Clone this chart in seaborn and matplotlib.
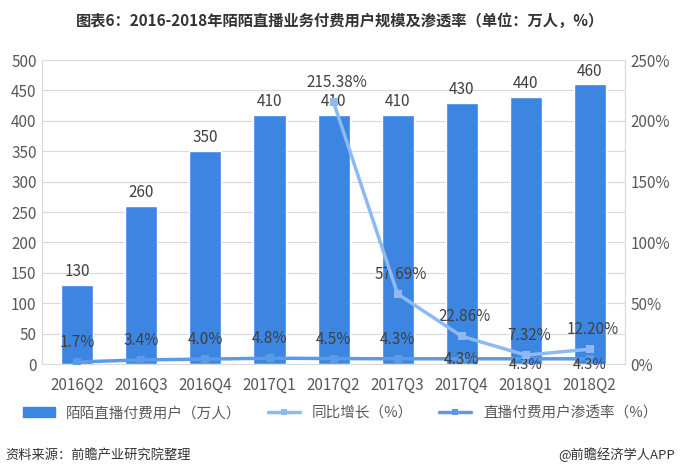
import numpy as np
import pandas as pd
import matplotlib.pyplot as plt
import seaborn as sns
from matplotlib.patches import Patch
from matplotlib.lines import Line2D

quarters = ["2016Q2", "2016Q3", "2016Q4", "2017Q1", "2017Q2", "2017Q3", "2017Q4", "2018Q1", "2018Q2"]
users = [130, 260, 350, 410, 410, 410, 430, 440, 460]
growth_quarters = ["2017Q2", "2017Q3", "2017Q4", "2018Q1", "2018Q2"]
growth = [215.38, 57.69, 22.86, 7.32, 12.20]
penetration = [1.7, 3.4, 4.0, 4.8, 4.5, 4.3, 4.3, 4.3, 4.3]

sns.set_style("white")
plt.rcParams['font.family'] = ['Noto Sans CJK SC', 'DejaVu Sans']

bar_color = "#3C85E0"
growth_color = "#8DBAF2"
pen_color = "#5A9AE6"
text_color = "#404040"
tick_color = "#595959"

fig = plt.figure(figsize=(6.8, 4.73), dpi=100)
ax = fig.add_axes([0.062, 0.2304, 0.857, 0.6426])

df = pd.DataFrame({"quarter": quarters, "users": users})
sns.barplot(data=df, x="quarter", y="users", color=bar_color, width=0.5,
            saturation=1, ax=ax, zorder=2)
ax.set_ylim(0, 500)
ax.set_xlim(-0.55, len(quarters) - 0.45)
ax.set_yticks(range(0, 501, 50))
ax.yaxis.grid(True, color="#D9D9D9", linewidth=0.8, zorder=0)
ax.set_axisbelow(True)
ax.set_xlabel("")
ax.set_ylabel("")
ax.tick_params(axis="y", length=0, labelsize=11, colors=tick_color, pad=4)
ax.tick_params(axis="x", length=0, labelsize=11, colors=tick_color, pad=9)
ax.spines["top"].set_visible(False)
for s in ["left", "right", "bottom"]:
    ax.spines[s].set_color("#D9D9D9")

for i, v in enumerate(users):
    ax.text(i, v + 8, str(v), ha="center", va="bottom", fontsize=11, color=text_color)

ax2 = ax.twinx()
ax2.set_ylim(0, 250)
ax2.set_yticks(range(0, 251, 50))
ax2.set_yticklabels([f"{t}%" for t in range(0, 251, 50)])
ax2.tick_params(axis="y", length=0, labelsize=11, colors=tick_color, pad=4)
for s in ["top", "left", "bottom"]:
    ax2.spines[s].set_visible(False)
ax2.spines["right"].set_color("#D9D9D9")

gx = [quarters.index(q) for q in growth_quarters]
px = list(range(len(quarters)))
sns.lineplot(x=px, y=penetration, ax=ax2, color=pen_color, linewidth=2.5,
             marker="s", markersize=6, markeredgewidth=0, zorder=3)
sns.lineplot(x=gx, y=growth, ax=ax2, color=growth_color, linewidth=2.5,
             marker="s", markersize=6, markeredgewidth=0, zorder=4)

for i, v in zip(gx, growth):
    ax2.text(i + 0.05, v + 9, f"{v:.2f}%", ha="center", va="bottom", fontsize=11, color=text_color)

for i, v in enumerate(penetration):
    if i < 6:
        ax2.text(i, v + 9, f"{v:.1f}%", ha="center", va="bottom", fontsize=11, color=text_color)
    elif i == 6:
        ax2.text(i, v - 0.5, f"{v:.1f}%", ha="center", va="center", fontsize=11, color=text_color)
    else:
        ax2.text(i, v - 5.5, f"{v:.1f}%", ha="center", va="center", fontsize=10.5, color=text_color)

fig.text(0.5, 0.955, "图表6：2016-2018年陌陌直播业务付费用户规模及渗透率（单位：万人，%）",
         ha="center", va="center", fontsize=11, fontweight="bold", color="#333333")

handles = [
    Patch(facecolor=bar_color, edgecolor=bar_color),
    Line2D([0], [0], color=growth_color, linewidth=2.5, marker="s", markersize=5, markeredgewidth=0),
    Line2D([0], [0], color=pen_color, linewidth=2.5, marker="s", markersize=5, markeredgewidth=0),
]
labels = ["陌陌直播付费用户（万人）", "同比增长（%）", "直播付费用户渗透率（%）"]
fig.legend(handles, labels, loc="center", bbox_to_anchor=(0.5, 0.126), ncol=3,
           frameon=False, fontsize=10.5, handlelength=2.2, columnspacing=1.8,
           labelcolor=tick_color)

fig.text(0.008, 0.038, "资料来源：前瞻产业研究院整理", ha="left", va="center",
         fontsize=9.5, style="italic", color="#333333")
fig.text(0.992, 0.038, "@前瞻经济学人APP", ha="right", va="center",
         fontsize=9.5, color="#333333")

fig.savefig("out.png", dpi=100)
